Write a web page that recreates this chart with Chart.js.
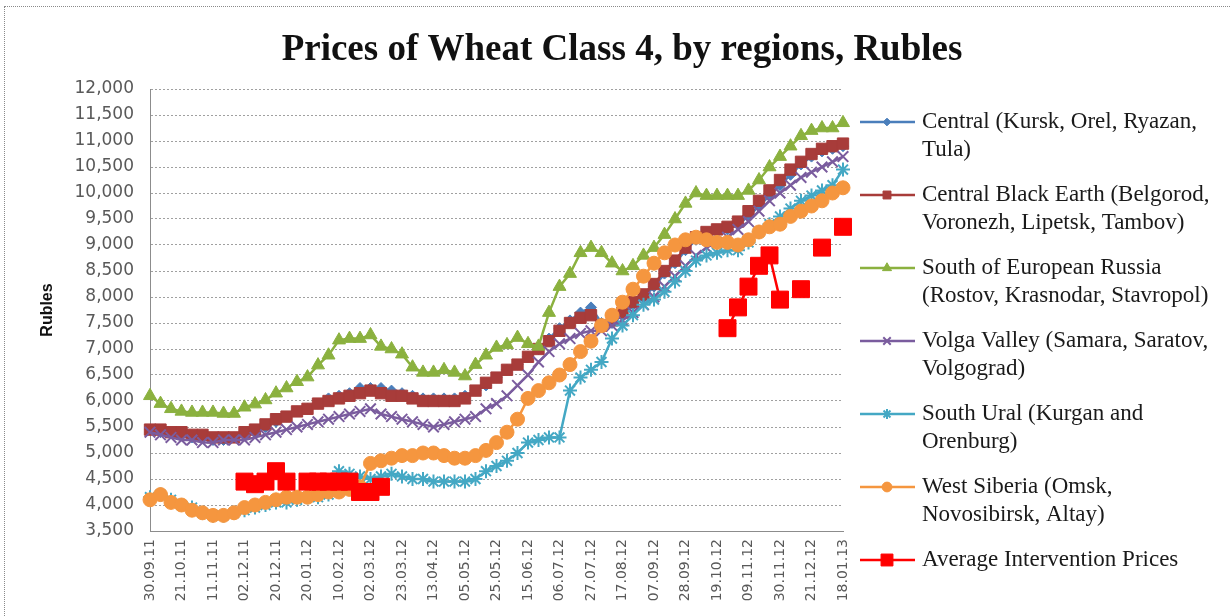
<!DOCTYPE html>
<html>
<head>
<meta charset="utf-8">
<script src="https://cdn.jsdelivr.net/npm/chart.js@4/dist/chart.umd.min.js"></script>
<style>
  html, body { margin: 0; padding: 0; background: #fff; overflow: hidden; }
  #frame { position: absolute; left: 4px; top: 6px; width: 1260px; height: 640px; border: 1px dotted #8a8a8a; }
  #chartdiv { position: absolute; left: 0; top: 0; }
</style>
</head>
<body>
<div id="frame"></div>
<canvas id="chartdiv" width="1230" height="616"></canvas>
<script>
// weekly dates (every third one is shown on the axis)
const weeks = ['30.09.11','07.10.11','14.10.11','21.10.11','28.10.11','04.11.11','11.11.11','18.11.11','25.11.11',
  '02.12.11','09.12.11','16.12.11','20.12.11','27.12.11','13.01.12','20.01.12','27.01.12','03.02.12','10.02.12',
  '17.02.12','24.02.12','02.03.12','09.03.12','16.03.12','23.03.12','30.03.12','06.04.12','13.04.12','20.04.12',
  '27.04.12','05.05.12','11.05.12','18.05.12','25.05.12','01.06.12','08.06.12','15.06.12','22.06.12','29.06.12',
  '06.07.12','13.07.12','20.07.12','27.07.12','03.08.12','10.08.12','17.08.12','24.08.12','31.08.12','07.09.12',
  '14.09.12','21.09.12','28.09.12','05.10.12','12.10.12','19.10.12','26.10.12','02.11.12','09.11.12','16.11.12',
  '23.11.12','30.11.12','07.12.12','14.12.12','21.12.12','28.12.12','11.01.13','18.01.13']

const central = [5450,5400,5400,5350,5300,5300,5250,5250,5300,5350,5400,5500,5600,5700,5800,5850,5950,6050,6100,
  6150,6250,6250,6250,6200,6150,6100,6050,6050,6050,6050,6100,6200,6300,6450,6600,6700,6850,7000,7200,7400,7550,
  7700,7800,7500,7500,7650,7850,8000,8200,8450,8650,8900,9100,9200,9250,9300,9400,9550,9750,9950,10150,10350,
  10550,10700,10800,10850,10900]
const blackEarth = [5450,5450,5400,5400,5350,5350,5300,5300,5300,5400,5450,5550,5650,5700,5800,5850,5950,6000,6050,
  6100,6150,6200,6150,6100,6100,6050,6000,6000,6000,6000,6050,6200,6350,6450,6600,6700,6850,7000,7150,7350,7500,
  7600,7650,7450,7550,7700,7900,8050,8250,8500,8700,8950,9150,9250,9300,9350,9450,9650,9850,10050,10250,10450,
  10600,10750,10850,10900,10950]
const southEurope = [6100,5950,5850,5800,5780,5780,5780,5760,5760,5880,5940,6020,6150,6250,6370,6460,6690,6880,7170,
  7200,7200,7270,7050,7000,6900,6650,6550,6550,6600,6550,6480,6700,6880,7030,7080,7220,7100,7050,7700,8200,8450,
  8850,8950,8850,8650,8500,8600,8800,8950,9200,9500,9800,10000,9950,9950,9950,9950,10050,10250,10500,10700,10900,
  11100,11200,11250,11250,11350]
const volga = [5400,5350,5300,5250,5250,5200,5200,5250,5250,5250,5300,5350,5400,5450,5500,5550,5600,5650,5700,5750,
  5800,5850,5750,5700,5650,5600,5550,5500,5550,5600,5650,5700,5850,5950,6100,6300,6500,6750,6950,7100,7200,7300,
  7350,7350,7450,7550,7700,7850,8000,8200,8400,8600,8800,8950,9050,9150,9300,9450,9650,9850,10000,10150,10300,
  10400,10500,10600,10700]
const southUral = [4150,4200,4100,4000,3950,3850,3800,3800,3850,3900,3950,4000,4050,4050,4100,4150,4150,4200,4650,
  4600,4550,4500,4550,4600,4550,4500,4500,4450,4450,4450,4450,4500,4650,4750,4850,5000,5200,5250,5300,5300,6200,
  6450,6600,6750,7200,7450,7650,7850,7950,8100,8300,8500,8700,8800,8850,8900,8900,9050,9250,9400,9550,9700,9850,
  9950,10050,10150,10450]
const westSiberia = [4100,4200,4050,4000,3900,3850,3800,3800,3850,3950,4000,4050,4100,4150,4150,4150,4200,4250,4250,
  4300,4350,4800,4850,4900,4950,4950,5000,5000,4950,4900,4900,4950,5050,5200,5400,5650,6050,6200,6350,6500,6700,
  6950,7150,7450,7650,7900,8150,8400,8650,8850,9000,9100,9150,9100,9050,9050,9000,9100,9250,9350,9400,9550,9650,
  9750,9850,10000,10100]
const intervention = [null,null,null,null,null,null,null,null,null,4450,4400,4450,4650,4450,null,4450,4450,4450,4450,
  4450,4250,4250,4350,null,null,null,null,null,null,null,null,null,null,null,null,null,null,null,null,null,null,
  null,null,null,null,null,null,null,null,null,null,null,null,null,null,7400,7800,8200,8600,8800,7950,null,8150,
  null,8950,null,9350]

const chartTitle = 'Prices of Wheat Class 4, by regions, Rubles'
const legendLabels = [
  ['Central (Kursk, Orel, Ryazan,', 'Tula)'],
  ['Central Black Earth (Belgorod,', 'Voronezh, Lipetsk, Tambov)'],
  ['South of European Russia', '(Rostov, Krasnodar, Stavropol)'],
  ['Volga Valley (Samara, Saratov,', 'Volgograd)'],
  ['South Ural (Kurgan and', 'Orenburg)'],
  ['West Siberia (Omsk,', 'Novosibirsk, Altay)'],
  ['Average Intervention Prices']
]

function series(label, data, color, style, radius, order, bw) {
  return {label: label, data: data, borderColor: color, backgroundColor: color,
    pointBackgroundColor: color, pointBorderColor: color, pointStyle: style,
    pointRadius: radius, pointBorderWidth: bw, borderWidth: 2.5, tension: 0,
    spanGaps: false, order: order}
}

const datasets = [
  series(legendLabels[0].join(' '), central, '#4A7EBB', 'rectRot', 5.5, 6, 1),
  series(legendLabels[1].join(' '), blackEarth, '#A83C3A', 'rect', 8, 5, 1),
  series(legendLabels[2].join(' '), southEurope, '#8BB13F', 'triangle', 7.5, 4, 1),
  series(legendLabels[3].join(' '), volga, '#7A5C9E', 'crossRot', 7.5, 3, 2),
  series(legendLabels[4].join(' '), southUral, '#44A8C4', 'star', 7, 2, 2),
  series(legendLabels[5].join(' '), westSiberia, '#F5963F', 'circle', 7, 1, 1),
  series(legendLabels[6].join(' '), intervention, '#FF0000', 'rect', 12, 0, 1)
]

// title and legend drawn by hand so they sit where the reference puts them
const sideLegend = {
  id: 'sideLegend',
  afterDraw(chart) {
    const ctx = chart.ctx
    const x0 = chart.chartArea.right + 17
    ctx.save()
    ctx.fillStyle = '#111'
    ctx.font = 'bold 37px "Liberation Serif"'
    ctx.textAlign = 'center'
    ctx.textBaseline = 'middle'
    ctx.fillText(chartTitle, 622, 50)
    chart.data.datasets.forEach(function (ds, i) {
      const y = 122 + i * 73
      ctx.strokeStyle = ds.borderColor
      ctx.lineWidth = 2.5
      ctx.setLineDash([])
      ctx.beginPath(); ctx.moveTo(x0, y); ctx.lineTo(x0 + 55, y); ctx.stroke()
      ctx.fillStyle = ds.pointBackgroundColor
      ctx.strokeStyle = ds.pointBorderColor
      ctx.lineWidth = ds.pointBorderWidth
      Chart.helpers.drawPoint(ctx, {pointStyle: ds.pointStyle, radius: ds.pointRadius * 0.7,
        borderWidth: ds.pointBorderWidth, rotation: 0}, x0 + 27, y)
      ctx.fillStyle = '#1a1a1a'
      ctx.font = '23px "Liberation Serif"'
      ctx.textBaseline = 'middle'
      ctx.textAlign = 'left'
      legendLabels[i].forEach(function (t, k) { ctx.fillText(t, x0 + 62, y + k * 28) })
    })
    ctx.restore()
  }
}

const myChart = new Chart(document.getElementById('chartdiv').getContext('2d'), {
  type: 'line',
  data: {labels: weeks, datasets: datasets},
  plugins: [sideLegend],
  options: {
    responsive: false,
    animation: false,
    devicePixelRatio: 1,
    layout: {padding: {left: 34, right: 387, top: 89, bottom: 0}},
    plugins: {
      legend: {display: false},
      tooltip: {enabled: false},
      title: {display: false}
    },
    scales: {
      x: {
        grid: {display: false, drawTicks: false},
        border: {display: true, color: '#8c8c8c', dash: [2, 2]},
        ticks: {autoSkip: false, maxRotation: 90, minRotation: 90, padding: 8, color: '#595959',
          font: {family: '"DejaVu Sans"', size: 14},
          callback: function (val, index) { return index % 3 === 0 ? this.getLabelForValue(val) : '' }},
        afterFit: function (s) { s.height = 85 }
      },
      y: {
        min: 3500, max: 12000,
        grid: {color: '#a0a0a0', drawTicks: false},
        border: {display: true, color: '#8c8c8c', dash: [2, 2]},
        ticks: {stepSize: 500, padding: 16, color: '#595959', font: {family: '"DejaVu Sans"', size: 17},
          callback: function (v) { return v.toLocaleString('en-US') }},
        title: {display: true, text: 'Rubles', color: '#111',
          font: {family: '"Liberation Sans"', size: 16, weight: 'bold'}},
        afterFit: function (s) { s.width = 116 }
      }
    }
  }
})
</script>
</body>
</html>
